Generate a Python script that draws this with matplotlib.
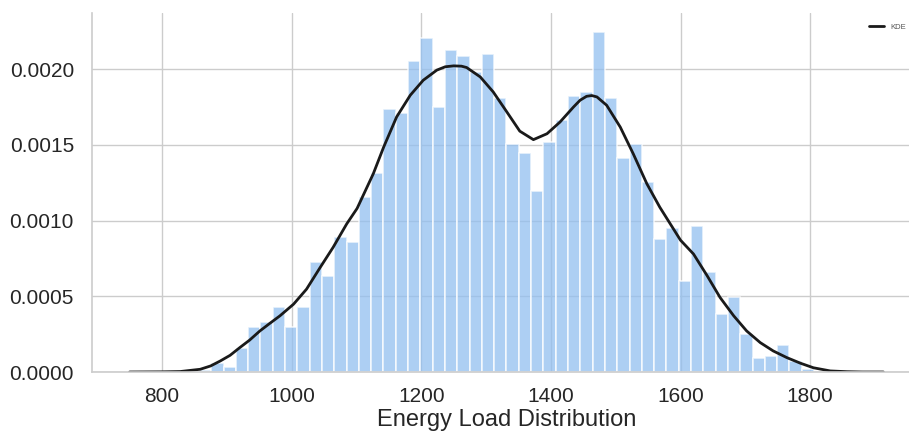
import matplotlib
matplotlib.use("Agg")
import matplotlib.pyplot as plt
import numpy as np
import seaborn as sns

sns.set_style("whitegrid")
plt.rcParams['font.family'] = ['Liberation Sans', 'DejaVu Sans']

# histogram: 50 bins, density values
bin_start = 857
bin_width = 18.98
density = [0.00001, 0.000058, 0.000033, 0.000157, 0.0003, 0.000333, 0.000432, 0.0003,
           0.000432, 0.000723, 0.000637, 0.000892, 0.000856, 0.001157, 0.001315, 0.001736,
           0.00171, 0.002052, 0.002206, 0.00175, 0.002123, 0.002087, 0.00198, 0.0021,
           0.00181, 0.001507, 0.001448, 0.001194, 0.001518, 0.001664, 0.00182, 0.001847,
           0.002244, 0.00181, 0.00141, 0.001507, 0.001253, 0.00088, 0.000953, 0.000602,
           0.000962, 0.000662, 0.000386, 0.000492, 0.000254, 0.0000947, 0.000106, 0.000179,
           0.0000728, 0.0000218]

# KDE curve points
kde_x = [750, 800, 828, 859, 875, 890, 905, 920, 935, 951, 966, 982, 1003, 1023, 1044,
         1064, 1085, 1101, 1126, 1142, 1162, 1183, 1203, 1224, 1237, 1250, 1262, 1270,
         1291, 1311, 1332, 1352, 1373, 1394, 1414, 1435, 1445, 1455, 1463, 1471, 1486,
         1507, 1527, 1548, 1568, 1589, 1600, 1620, 1641, 1661, 1682, 1702, 1723, 1743,
         1764, 1785, 1805, 1831, 1857, 1880, 1913]
kde_y = [0.0, 0.000001, 0.000003, 0.000018, 0.00004, 0.000073, 0.00011, 0.000161,
         0.00021, 0.000271, 0.00032, 0.000371, 0.000448, 0.000547, 0.00069, 0.000823,
         0.000978, 0.00108, 0.001309, 0.001485, 0.001684, 0.001827, 0.001926, 0.001993,
         0.002015, 0.002021, 0.002019, 0.00201, 0.001948, 0.001849, 0.001717, 0.00159,
         0.001534, 0.001573, 0.00165, 0.00175, 0.001794, 0.00182, 0.001825, 0.001816,
         0.001761, 0.001617, 0.001441, 0.001243, 0.001088, 0.000945, 0.00087, 0.000779,
         0.000636, 0.000492, 0.000371, 0.000271, 0.000194, 0.000139, 0.000095, 0.000058,
         0.000028, 0.000007, 0.000002, 0.0, 0.0]

edges = bin_start + bin_width * np.arange(len(density) + 1)

fig = plt.figure(figsize=(9.09, 4.33), dpi=100)
ax = fig.add_axes([92 / 909, 1 - 372 / 433, (921 - 92) / 909, (372 - 13) / 433])

ax.bar(edges[:-1], density, width=bin_width, align='edge', color='#92bff0',
       alpha=0.75, edgecolor='white', linewidth=1.2)
ax.plot(kde_x, kde_y, color='#1a1a1a', linewidth=2, label='KDE')

ax.set_xlim(692, 1971)
ax.set_ylim(0, 0.00237)
ax.set_xticks([800, 1000, 1200, 1400, 1600, 1800])
ax.set_yticks([0.0, 0.0005, 0.0010, 0.0015, 0.0020])
ax.set_yticklabels(['0.0000', '0.0005', '0.0010', '0.0015', '0.0020'])
ax.tick_params(labelsize=15, colors='#262626', length=0)
ax.tick_params(axis='y', pad=13)
ax.tick_params(axis='x', pad=11)
ax.set_xlabel('Energy Load Distribution', fontsize=17, color='#262626', labelpad=2)
ax.grid(True, color='#cccccc', linewidth=1)
ax.set_axisbelow(True)
for s in ['top', 'right']:
    ax.spines[s].set_visible(False)
for s in ['left', 'bottom']:
    ax.spines[s].set_color('#cccccc')
    ax.spines[s].set_linewidth(1.2)

leg = ax.legend(loc='upper right', fontsize=5.5, frameon=False,
                bbox_to_anchor=(0.99, 0.99))
for t in leg.get_texts():
    t.set_color('#555555')

fig.savefig('out.png', dpi=100)
